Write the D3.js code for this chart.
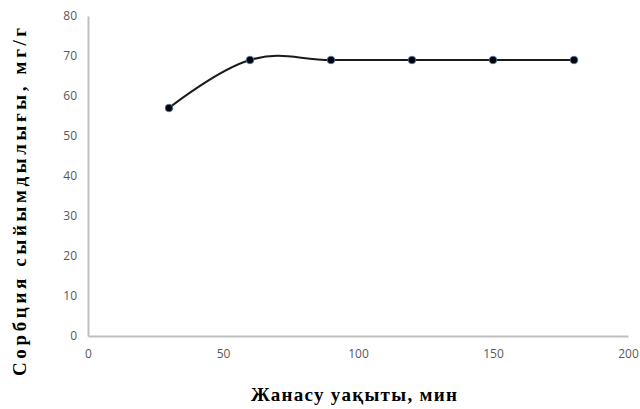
<!DOCTYPE html>
<html>
<head>
<meta charset="utf-8">
<script src="https://cdn.jsdelivr.net/npm/d3@7"></script>
<style>
  html, body { margin: 0; padding: 0; background: #fff; }
  svg { display: block; }
</style>
</head>
<body>
<svg id="chart" width="640" height="409"></svg>
<script>
// Contact time (min) and sorption capacity (mg/g)
const times = [30, 60, 90, 120, 150, 180];
const capacity = [57, 69, 69, 69, 69, 69];
const xTicks = [0, 50, 100, 150, 200];
const yTicks = [0, 10, 20, 30, 40, 50, 60, 70, 80];
const xTitle = "Жанасу уақыты, мин";
const yTitle = "Сорбция  сыйымдылығы,  мг/г";

const svg = d3.select("#chart");
const x = d3.scaleLinear().domain([0, 200]).range([88, 628]);
const y = d3.scaleLinear().domain([0, 80]).range([336, 16]);

const tickFont = "'Open Sans', 'Liberation Sans', sans-serif";
const titleFont = "'Liberation Serif', 'DejaVu Serif', serif";

// Axes: plain grey lines, no tick marks
const xAxis = svg.append("g").attr("transform", `translate(0,${y(0)})`)
  .call(d3.axisBottom(x).tickValues(xTicks).tickSize(0).tickPadding(13));
const yAxis = svg.append("g").attr("transform", `translate(${x(0)},0)`)
  .call(d3.axisLeft(y).tickValues(yTicks).tickSize(0).tickPadding(11));

[xAxis, yAxis].forEach(g => {
  g.select(".domain").attr("stroke", "#bfbfbf").attr("stroke-width", 2);
  g.selectAll("text").attr("fill", "#595959")
    .style("font-family", tickFont).style("font-size", "12px");
});

// Smoothed data line
const pts = times.map((t, i) => [t, capacity[i]]);
svg.append("path")
  .datum(pts)
  .attr("fill", "none")
  .attr("stroke", "#1a1a1a")
  .attr("stroke-width", 2)
  .attr("d", d3.line().x(d => x(d[0])).y(d => y(d[1])).curve(d3.curveCardinal.tension(-0.2)));

// Markers
svg.append("g").selectAll("circle")
  .data(pts)
  .join("circle")
  .attr("cx", d => x(d[0]))
  .attr("cy", d => y(d[1]))
  .attr("r", 3.8)
  .attr("fill", "#000")
  .attr("stroke", "#4a7bbd")
  .attr("stroke-width", 0.8);

// Axis titles
svg.append("text")
  .attr("x", 354).attr("y", 401)
  .attr("text-anchor", "middle")
  .attr("textLength", 206)
  .attr("lengthAdjust", "spacing")
  .style("font-family", titleFont)
  .style("font-weight", "bold")
  .style("font-size", "19px")
  .attr("fill", "#000")
  .text(xTitle);

svg.append("text")
  .attr("transform", "translate(26,202) rotate(-90)")
  .attr("text-anchor", "middle")
  .attr("textLength", 348)
  .attr("lengthAdjust", "spacing")
  .style("font-family", titleFont)
  .style("font-weight", "bold")
  .style("font-size", "19px")
  .attr("fill", "#000")
  .text(yTitle);
</script>
</body>
</html>
